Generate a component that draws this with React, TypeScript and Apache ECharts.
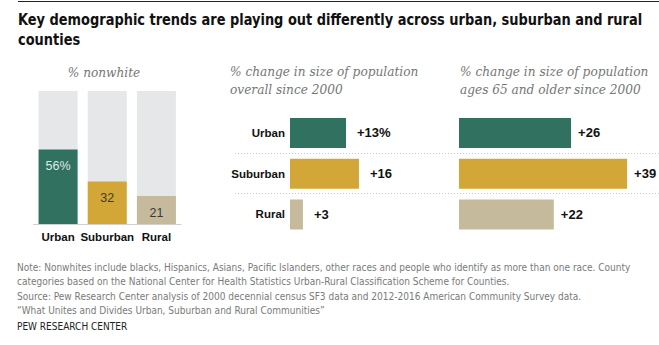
import React, { useEffect, useRef } from "react";
import * as echarts from "echarts";

const categories = ["Urban", "Suburban", "Rural"];
const nonwhite = [56, 32, 21];
const popChange = [13, 16, 3];
const olderChange = [26, 39, 22];

const titleText =
  "Key demographic trends are playing out differently across urban, suburban and rural";
const titleText2 = "counties";
const panelTitles = [
  ["% nonwhite"],
  ["% change in size of population", "overall since 2000"],
  ["% change in size of population", "ages 65 and older since 2000"],
];
const footerLines = [
  "Note: Nonwhites include blacks, Hispanics, Asians, Pacific Islanders, other races and people who identify as more than one race. County",
  "categories based on the National Center for Health Statistics Urban-Rural Classification Scheme for Counties.",
  "Source: Pew Research Center analysis of 2000 decennial census SF3 data and 2012-2016 American Community Survey data.",
  "\u201cWhat Unites and Divides Urban, Suburban and Rural Communities\u201d",
];
const footerOrg = "PEW RESEARCH CENTER";

const barColors = ["#31715f", "#d2a737", "#c5bb9c"];
const COND = '"DejaVu Sans Condensed", "Liberation Sans Narrow", Arial, sans-serif';
const SANS = '"Liberation Sans", Arial, sans-serif';
const SERIF = '"DejaVu Serif", Georgia, serif';

export default function App() {
  const ref = useRef<HTMLDivElement>(null);
  useEffect(() => {
    if (!ref.current) return;
    const chart = echarts.init(ref.current, null, { renderer: "svg" });
    const pxPerUnit = 4.31;
    const hMax = 40;
    const hWidth = pxPerUnit * hMax;

    const ptStyle = (text: string, align = "left") => ({
      text,
      font: `italic 13.5px ${SERIF}`,
      fill: "#767676",
      align,
    });

    const graphics: any[] = [
      { type: "line", shape: { x1: 18, y1: 1.5, x2: 659, y2: 1.5 }, style: { stroke: "#222", lineWidth: 1.2 } },
      { type: "text", x: 18, y: 12, scaleX: 0.9, style: { text: titleText, font: `bold 16px ${COND}`, fill: "#111" } },
      { type: "text", x: 18, y: 32, scaleX: 0.9, style: { text: titleText2, font: `bold 16px ${COND}`, fill: "#111" } },
      { type: "text", x: 104, y: 65, scaleX: 0.9, style: ptStyle(panelTitles[0][0], "center") },
      { type: "text", x: 230, y: 64, scaleX: 0.9, style: ptStyle(panelTitles[1][0]) },
      { type: "text", x: 230, y: 82, scaleX: 0.9, style: ptStyle(panelTitles[1][1]) },
      { type: "text", x: 460, y: 64, scaleX: 0.9, style: ptStyle(panelTitles[2][0]) },
      { type: "text", x: 460, y: 82, scaleX: 0.9, style: ptStyle(panelTitles[2][1]) },
      { type: "line", shape: { x1: 235, y1: 153.5, x2: 659, y2: 153.5 }, style: { stroke: "#c8c8c8", lineWidth: 1, lineDash: [1, 2] } },
      { type: "line", shape: { x1: 235, y1: 193.5, x2: 659, y2: 193.5 }, style: { stroke: "#c8c8c8", lineWidth: 1, lineDash: [1, 2] } },
    ];
    footerLines.forEach((t, i) => {
      graphics.push({ type: "text", x: 17, y: 262 + i * 14.5, style: { text: t, font: `10px ${COND}`, fill: "#7a7a7a" } });
    });
    graphics.push({ type: "text", x: 17, y: 321, style: { text: footerOrg, font: `10px ${COND}`, fill: "#222" } });

    const option: any = {
      animation: false,
      backgroundColor: "#fff",
      grid: [
        { left: 33.5, top: 91, width: 147.5, height: 133 },
        { left: 290, top: 112.6, width: hWidth, height: 122.25 },
        { left: 459, top: 112.6, width: hWidth, height: 122.25 },
      ],
      xAxis: [
        {
          gridIndex: 0, type: "category", data: categories,
          axisLine: { show: true, lineStyle: { color: "#d0d0d0", width: 1 } },
          axisTick: { show: false },
          axisLabel: { interval: 0, fontFamily: SANS, fontWeight: "bold", fontSize: 11.5, color: "#111", margin: 7 },
        },
        { gridIndex: 1, type: "value", min: 0, max: hMax, show: false },
        { gridIndex: 2, type: "value", min: 0, max: hMax, show: false },
      ],
      yAxis: [
        { gridIndex: 0, type: "value", min: 0, max: 100, show: false },
        {
          gridIndex: 1, type: "category", data: categories, inverse: true,
          axisLine: { show: false }, axisTick: { show: false }, splitLine: { show: false },
          axisLabel: { interval: 0, fontFamily: SANS, fontWeight: "bold", fontSize: 11.5, color: "#111", margin: 5 },
        },
        {
          gridIndex: 2, type: "category", data: categories, inverse: true,
          show: false,
        },
      ],
      series: [
        {
          type: "bar", xAxisIndex: 0, yAxisIndex: 0, barWidth: 39,
          showBackground: true, backgroundStyle: { color: "#e6e7e8" },
          data: nonwhite.map((v, i) => ({
            value: v,
            itemStyle: { color: barColors[i] },
            label: { color: i === 0 ? "#dfe9e6" : "#3a3a3a" },
          })),
          label: {
            show: true, position: "insideTop", distance: 10,
            fontFamily: SANS, fontSize: 12.5,
            formatter: (p: any) => (p.dataIndex === 0 ? `${p.value}%` : `${p.value}`),
          },
        },
        {
          type: "bar", xAxisIndex: 1, yAxisIndex: 1, barWidth: 30,
          data: popChange.map((v, i) => ({ value: v, itemStyle: { color: barColors[i] } })),
          label: {
            show: true, position: "right", distance: 11,
            fontFamily: SANS, fontWeight: "bold", fontSize: 13, color: "#111",
            formatter: (p: any) => (p.dataIndex === 0 ? `+${p.value}%` : `+${p.value}`),
          },
        },
        {
          type: "bar", xAxisIndex: 2, yAxisIndex: 2, barWidth: 30,
          data: olderChange.map((v, i) => ({ value: v, itemStyle: { color: barColors[i] } })),
          label: {
            show: true, position: "right", distance: 7,
            fontFamily: SANS, fontWeight: "bold", fontSize: 13, color: "#111",
            formatter: (p: any) => `+${p.value}`,
          },
        },
      ],
      graphic: graphics,
    };
    chart.setOption(option);
    return () => chart.dispose();
  }, []);
  return (
    <div
      ref={ref}
      style={{ position: "fixed", left: 0, top: 0, width: 659, height: 345, background: "#fff" }}
    />
  );
}
